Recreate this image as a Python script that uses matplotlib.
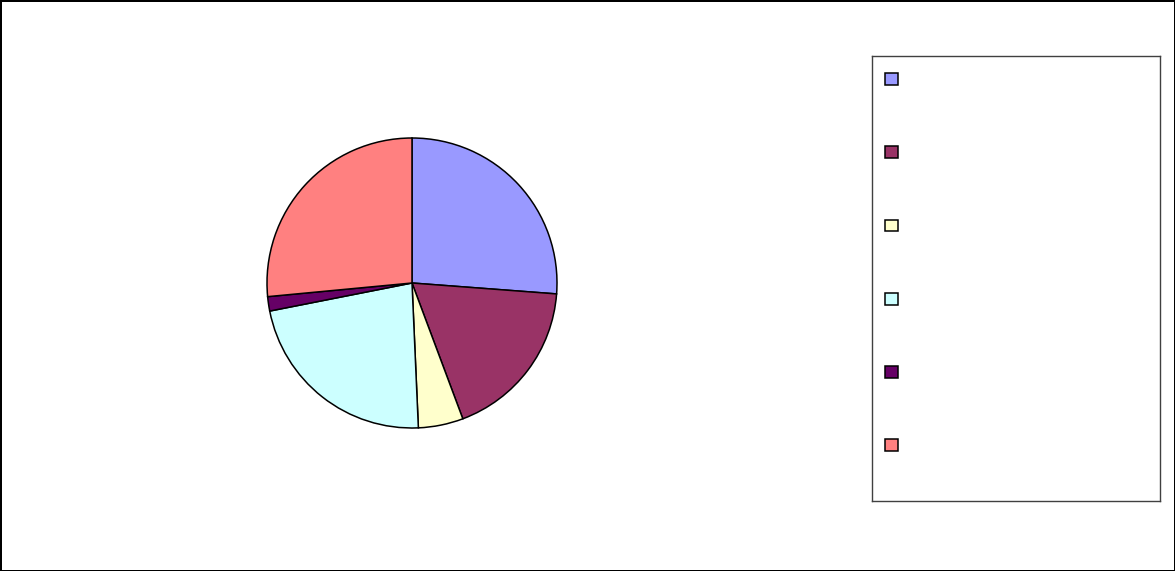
import matplotlib.pyplot as plt
from matplotlib.patches import Patch

# slice shares (percent), clockwise from 12 o'clock
shares = [26.2, 18.1, 5.0, 22.6, 1.6, 26.5]
colors = ["#9999FF", "#993366", "#FFFFCC", "#CCFFFF", "#660066", "#FF8080"]
labels = ["", "", "", "", "", ""]

W, H = 1175, 571
fig = plt.figure(figsize=(W / 100, H / 100), dpi=100)
fig.patch.set_facecolor("white")
fig.patch.set_edgecolor("black")
fig.patch.set_linewidth(2)

# pie, centred at (412, 283) px with a 145 px radius
cx, cy, r = 412, 283, 145
ax = fig.add_axes([(cx - r) / W, (H - cy - r) / H, 2 * r / W, 2 * r / H])
ax.pie(
    shares,
    colors=colors,
    startangle=90,
    counterclock=False,
    radius=1,
    wedgeprops=dict(edgecolor="black", linewidth=1.1),
)
ax.set_xlim(-1.0, 1.0)
ax.set_ylim(-1.0, 1.0)
ax.set_aspect("equal")
ax.axis("off")

# legend panel on the right
lx0, ly0, lx1, ly1 = 872, 56, 1160, 501
lax = fig.add_axes([lx0 / W, (H - ly1) / H, (lx1 - lx0) / W, (ly1 - ly0) / H])
lax.set_xticks([])
lax.set_yticks([])
for s in lax.spines.values():
    s.set_edgecolor("#404040")
    s.set_linewidth(1)

handles = [Patch(facecolor=c, edgecolor="black", linewidth=1.1) for c in colors]
lax.legend(
    handles,
    labels,
    loc="upper left",
    bbox_to_anchor=(13 / (lx1 - lx0), 1 - 17 / (ly1 - ly0)),
    frameon=False,
    fontsize=10,
    handlelength=0.93,
    handleheight=0.93,
    labelspacing=4.26,
    borderaxespad=0.0,
    borderpad=0.0,
)

plt.savefig("out.png", dpi=100)
